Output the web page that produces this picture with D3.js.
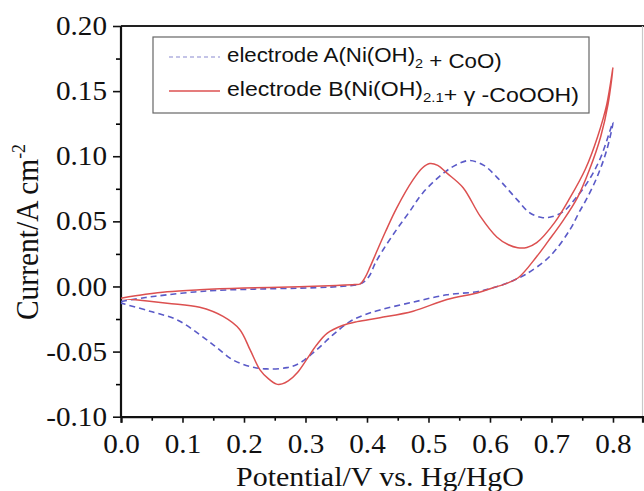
<!DOCTYPE html>
<html lang="en">
<head>
<meta charset="UTF-8">
<title>CV curves</title>
<style>
    body { margin: 0; background: #fff; }
    .tick-label { font-family: "Liberation Serif", "Times New Roman", serif; font-size: 27px; fill: #111; }
    .axis-title { font-family: "Liberation Serif", "Times New Roman", serif; font-size: 28px; fill: #111; }
    .legend-text { font-family: "Liberation Sans", Arial, sans-serif; font-size: 20px; fill: #111; }
</style>
</head>
<body>
<div id="container"></div>
<script src="https://d3js.org/d3.v7.min.js"></script>
<script>
// electrode A (blue dashed): anodic sweep 0 -> 0.8 V, then cathodic back to 0
var aPotential = [0, 0.04, 0.075, 0.12, 0.156, 0.22, 0.29, 0.34, 0.37, 0.385, 0.395, 0.405, 0.413, 0.426, 0.448, 0.47, 0.491, 0.527, 0.55, 0.567, 0.59, 0.611, 0.644, 0.665, 0.686, 0.70, 0.719, 0.738, 0.76, 0.78, 0.8,
    0.79, 0.775, 0.758, 0.745, 0.730, 0.697, 0.657, 0.63, 0.605, 0.579, 0.53, 0.475, 0.421, 0.395, 0.372, 0.345, 0.318, 0.291, 0.27, 0.237, 0.21, 0.182, 0.156, 0.128, 0.091, 0.047, 0];
var aCurrent = [-0.0115, -0.0085, -0.0064, -0.0042, -0.003, -0.002, -0.0013, -0.0005, 0.0005, 0.0015, 0.0035, 0.009, 0.0175, 0.028, 0.0436, 0.058, 0.072, 0.088, 0.0945, 0.0967, 0.093, 0.084, 0.0667, 0.0564, 0.0528, 0.0535, 0.0574, 0.067, 0.081, 0.099, 0.126,
    0.105, 0.085, 0.068, 0.057, 0.0436, 0.023, 0.009, 0.003, -0.001, -0.004, -0.0064, -0.012, -0.018, -0.022, -0.027, -0.037, -0.0487, -0.0587, -0.0623, -0.0633, -0.0615, -0.0564, -0.047, -0.037, -0.0256, -0.019, -0.0128];

// electrode B (red solid)
var bPotential = [0, 0.04, 0.075, 0.128, 0.2, 0.29, 0.35, 0.38, 0.389, 0.397, 0.405, 0.416, 0.43, 0.448, 0.475, 0.49, 0.502, 0.515, 0.53, 0.556, 0.584, 0.611, 0.63, 0.645, 0.66, 0.676, 0.705, 0.73, 0.755, 0.775, 0.79, 0.8,
    0.792, 0.78, 0.762, 0.742, 0.718, 0.695, 0.676, 0.646, 0.625, 0.605, 0.579, 0.53, 0.475, 0.421, 0.384, 0.36, 0.335, 0.318, 0.302, 0.287, 0.272, 0.262, 0.253, 0.24, 0.226, 0.21, 0.193, 0.166, 0.128, 0.075, 0];
var bCurrent = [-0.009, -0.006, -0.004, -0.0025, -0.0012, -0.0002, 0.0008, 0.0015, 0.002, 0.007, 0.015, 0.027, 0.042, 0.060, 0.082, 0.091, 0.0944, 0.093, 0.087, 0.076, 0.054, 0.038, 0.032, 0.0298, 0.030, 0.0336, 0.049, 0.068, 0.09, 0.115, 0.14, 0.168,
    0.14, 0.115, 0.09, 0.068, 0.05, 0.035, 0.023, 0.0067, 0.002, -0.001, -0.005, -0.010, -0.019, -0.024, -0.027, -0.030, -0.036, -0.045, -0.056, -0.066, -0.0725, -0.0748, -0.075, -0.071, -0.064, -0.0487, -0.033, -0.023, -0.016, -0.0128, -0.009];

var xTicks = [0, 0.1, 0.2, 0.3, 0.4, 0.5, 0.6, 0.7, 0.8];
var xMinor = [0.05, 0.15, 0.25, 0.35, 0.45, 0.55, 0.65, 0.75];
var yTicks = [-0.1, -0.05, 0, 0.05, 0.1, 0.15, 0.2];
var yMinor = [-0.075, -0.025, 0.025, 0.075, 0.125, 0.175];

var legendLabels = [
    { parts: [["electrode A(Ni(OH)", 0], ["2", 1], [" + CoO)", 0]], cls: "a", target: 275 },
    { parts: [["electrode B(Ni(OH)", 0], ["2.1", 1], ["+ \u03b3 -CoOOH)", 0]], cls: "b", target: 352 }
];

var W = 644, H = 491;
var sx = 1.08; // glyphs in the original figure are slightly wide

var svg = d3.select("#container").append("svg")
    .attr("width", W).attr("height", H);

var x = d3.scaleLinear().domain([0, 0.848]).range([121, 642.5]);
var y = d3.scaleLinear().domain([-0.1, 0.2]).range([416.7, 26]);

// frame: top dark, right light
svg.append("line").attr("x1", x(0)).attr("x2", W).attr("y1", y(0.2)).attr("y2", y(0.2))
    .attr("stroke", "#222").attr("stroke-width", 2);
svg.append("line").attr("x1", x(0.848)).attr("x2", x(0.848)).attr("y1", y(0.2)).attr("y2", y(-0.1))
    .attr("stroke", "#c8c8c8").attr("stroke-width", 1.2);

// minor ticks
svg.append("g").attr("transform", "translate(" + x(0) + ",0)")
    .call(d3.axisLeft(y).tickValues(yMinor).tickSize(5).tickFormat(""))
    .call(function (g) { g.select(".domain").remove(); g.selectAll("line").attr("stroke-width", 1.6); });
svg.append("g").attr("transform", "translate(0," + y(-0.1) + ")")
    .call(d3.axisBottom(x).tickValues(xMinor).tickSize(4).tickFormat(""))
    .call(function (g) { g.select(".domain").remove(); g.selectAll("line").attr("stroke-width", 1.6); });

// major axes
var yAxisG = svg.append("g").attr("transform", "translate(" + x(0) + ",0)")
    .call(d3.axisLeft(y).tickValues(yTicks).tickSize(8).tickPadding(6)
        .tickFormat(function (d) { return d.toFixed(2); }));
var xAxisG = svg.append("g").attr("transform", "translate(0," + y(-0.1) + ")")
    .call(d3.axisBottom(x).tickValues(xTicks).tickSize(6).tickPadding(11)
        .tickFormat(function (d) { return d.toFixed(1); }));

[yAxisG, xAxisG].forEach(function (g) {
    g.attr("font-family", null).attr("font-size", null);
    g.select(".domain").attr("stroke", "#111").attr("stroke-width", 2.2);
    g.selectAll(".tick line").attr("stroke", "#111").attr("stroke-width", 1.6);
    g.selectAll(".tick text").attr("class", "tick-label");
});
yAxisG.selectAll(".tick text").attr("x", -14 / sx).attr("transform", "scale(" + sx + ",1)");
xAxisG.selectAll(".tick text").attr("transform", "scale(" + sx + ",1)");
// make the y axis reach the x axis line
yAxisG.select(".domain").attr("d", "M0," + y(0.2) + "V" + (y(-0.1) + 1));

// curves
var line = d3.line()
    .x(function (d) { return x(d[0]); })
    .y(function (d) { return y(d[1]); })
    .curve(d3.curveCatmullRom.alpha(0.5));

var seriesA = aPotential.map(function (p, i) { return [p, aCurrent[i]]; });
var seriesB = bPotential.map(function (p, i) { return [p, bCurrent[i]]; });

var plot = svg.append("g");
plot.append("path").datum(seriesA).attr("d", line)
    .attr("fill", "none").attr("stroke", "#5a5ac8").attr("stroke-width", 1.6)
    .attr("stroke-dasharray", "6,4");
plot.append("path").datum(seriesB).attr("d", line)
    .attr("fill", "none").attr("stroke", "#dc5050").attr("stroke-width", 1.5);

// legend
var legend = svg.append("g");
legend.append("rect").attr("x", 153).attr("y", 37).attr("width", 436).attr("height", 76)
    .attr("fill", "#fff").attr("stroke", "#666").attr("stroke-width", 1.2);

var rowY = [62, 96];
legendLabels.forEach(function (d, i) {
    legend.append("line").attr("x1", 169).attr("x2", 220).attr("y1", rowY[i] - 5).attr("y2", rowY[i] - 5)
        .attr("stroke", d.cls == "a" ? "#8a8ad0" : "#dc5050")
        .attr("stroke-width", d.cls == "a" ? 1.2 : 1.5)
        .attr("stroke-dasharray", d.cls == "a" ? "4,3" : null);
    var g = legend.append("g").attr("transform", "translate(227," + rowY[i] + ")");
    var t = g.append("text").attr("class", "legend-text");
    d.parts.forEach(function (p) {
        t.append("tspan").text(p[0])
            .attr("font-size", p[1] ? "13px" : null)
            .attr("dy", p[1] ? 6 : null);
        if (p[1]) t.append("tspan").attr("dy", -6).text("");
    });
    var w = t.node().getComputedTextLength();
    g.attr("transform", "translate(227," + rowY[i] + ") scale(" + (d.target / w) + ",1)");
});

// axis titles
var xt = svg.append("g").attr("transform", "translate(380,486)");
var xtt = xt.append("text").attr("class", "axis-title").attr("text-anchor", "middle")
    .text("Potential/V vs. Hg/HgO");
xt.attr("transform", "translate(380,486) scale(" + (288 / xtt.node().getComputedTextLength()) + ",1)");

var yt = svg.append("g").attr("transform", "translate(38,232) rotate(-90) scale(1,1.15)");
var ytt = yt.append("text").attr("class", "axis-title").attr("text-anchor", "middle");
ytt.append("tspan").text("Current/A cm");
ytt.append("tspan").attr("font-size", "17px").attr("dy", -11).text("-2");
var yw = ytt.node().getComputedTextLength();
yt.attr("transform", "translate(38,232) rotate(-90) scale(" + (176 / yw) + ",1.15)");
</script>
</body>
</html>
